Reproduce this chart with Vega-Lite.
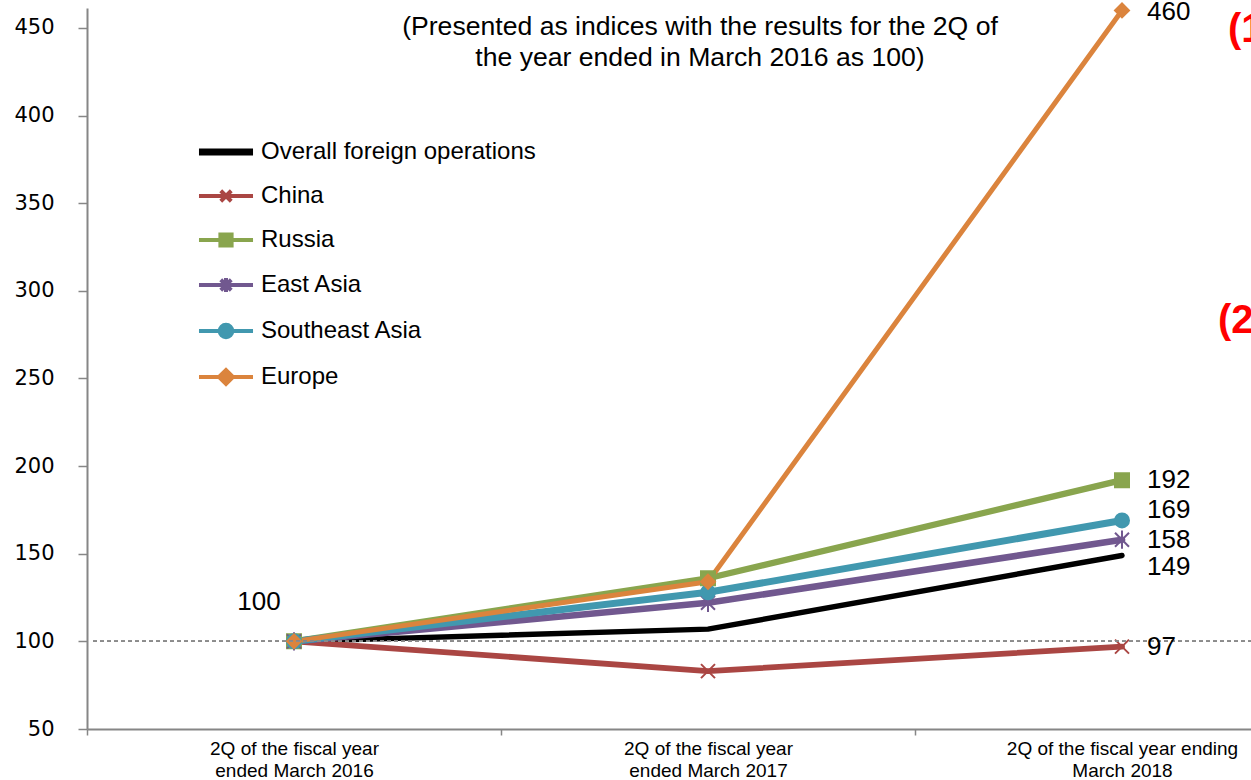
{
  "$schema": "https://vega.github.io/schema/vega-lite/v6.json",
  "width": 1164,
  "height": 721,
  "autosize": {"type": "none"},
  "padding": {"left": 87, "top": 8, "right": 0, "bottom": 51},
  "background": "white",
  "config": {"view": {"stroke": null}, "font": "Liberation Sans"},
  "title": {
    "text": ["(Presented as indices with the results for the 2Q of", "the year ended in March 2016 as 100)"],
    "font": "Liberation Sans",
    "fontSize": 26.6,
    "fontWeight": "normal",
    "color": "#000000",
    "lineHeight": 31,
    "anchor": "middle",
    "frame": "group",
    "baseline": "bottom",
    "dx": 31,
    "offset": -99
  },
  "data": {
    "values": [
      {"period": "2Q of the fiscal year ended March 2016", "region": "Overall foreign operations", "value": 100},
      {"period": "2Q of the fiscal year ended March 2017", "region": "Overall foreign operations", "value": 107},
      {"period": "2Q of the fiscal year ending March 2018", "region": "Overall foreign operations", "value": 149},
      {"period": "2Q of the fiscal year ended March 2016", "region": "China", "value": 100},
      {"period": "2Q of the fiscal year ended March 2017", "region": "China", "value": 83},
      {"period": "2Q of the fiscal year ending March 2018", "region": "China", "value": 97},
      {"period": "2Q of the fiscal year ended March 2016", "region": "Russia", "value": 100},
      {"period": "2Q of the fiscal year ended March 2017", "region": "Russia", "value": 136},
      {"period": "2Q of the fiscal year ending March 2018", "region": "Russia", "value": 192},
      {"period": "2Q of the fiscal year ended March 2016", "region": "East Asia", "value": 100},
      {"period": "2Q of the fiscal year ended March 2017", "region": "East Asia", "value": 122},
      {"period": "2Q of the fiscal year ending March 2018", "region": "East Asia", "value": 158},
      {"period": "2Q of the fiscal year ended March 2016", "region": "Southeast Asia", "value": 100},
      {"period": "2Q of the fiscal year ended March 2017", "region": "Southeast Asia", "value": 128},
      {"period": "2Q of the fiscal year ending March 2018", "region": "Southeast Asia", "value": 169},
      {"period": "2Q of the fiscal year ended March 2016", "region": "Europe", "value": 100},
      {"period": "2Q of the fiscal year ended March 2017", "region": "Europe", "value": 134},
      {"period": "2Q of the fiscal year ending March 2018", "region": "Europe", "value": 460}
    ]
  },
  "encoding": {
    "x": {
      "field": "period",
      "type": "nominal",
      "sort": null,
      "scale": {"type": "band", "paddingInner": 0, "paddingOuter": 0, "range": [0, 1242]},
      "axis": {
        "title": null,
        "labelAngle": 0,
        "tickBand": "extent",
        "domainColor": "#868686",
        "domainWidth": 2,
        "tickColor": "#868686",
        "tickWidth": 1.5,
        "tickSize": 6,
        "labelFont": "Liberation Sans",
        "labelFontSize": 19,
        "labelColor": "#000000",
        "labelLineHeight": 22,
        "labelPadding": 4,
        "labelLimit": 400,
        "labelBaseline": "top",
        "labelExpr": "indexof(datum.label, ' ended') > 0 ? [substring(datum.label, 0, indexof(datum.label, ' ended')), substring(datum.label, indexof(datum.label, ' ended') + 1)] : [substring(datum.label, 0, indexof(datum.label, ' March')), substring(datum.label, indexof(datum.label, ' March') + 1)]"
      }
    },
    "y": {
      "field": "value",
      "type": "quantitative",
      "scale": {"domain": [50, 461.4], "nice": false, "zero": false},
      "axis": {
        "title": null,
        "values": [50, 100, 150, 200, 250, 300, 350, 400, 450],
        "grid": false,
        "domainColor": "#868686",
        "domainWidth": 2,
        "tickColor": "#868686",
        "tickWidth": 1.5,
        "tickSize": 9,
        "labelFont": "DejaVu Sans",
        "labelFontSize": 21,
        "labelColor": "#000000",
        "labelPadding": 24
      }
    }
  },
  "layer": [
    {
      "mark": {"type": "line", "strokeJoin": "round", "strokeCap": "round"},
      "encoding": {
        "color": {
          "field": "region",
          "type": "nominal",
          "scale": {
            "domain": ["Overall foreign operations", "China", "Russia", "East Asia", "Southeast Asia", "Europe"],
            "range": ["#000000", "#AA4643", "#89A54E", "#71588F", "#4198AF", "#DB843D"]
          },
          "legend": {
            "title": null,
            "orient": "none",
            "legendX": 107,
            "legendY": 132,
            "padding": 0,
            "labelFont": "Liberation Sans",
            "labelFontSize": 24,
            "labelColor": "#000000",
            "labelLimit": 500,
            "symbolSize": 196,
            "symbolOffset": 20,
            "labelOffset": 23,
            "rowPadding": 16,
            "encode": {
              "symbols": {
                "update": {
                  "shape": {"signal": "datum.value === 'Overall foreign operations' ? 'M-3.86,0L3.86,0' : datum.value === 'China' ? 'M-3.86,0L3.86,0M-0.75,-0.75L0.75,0.75M-0.75,0.75L0.75,-0.75' : datum.value === 'Russia' ? 'M-3.86,0L3.86,0M-0.8,-0.8L0.8,-0.8L0.8,0.8L-0.8,0.8Z' : datum.value === 'East Asia' ? 'M-3.86,0L3.86,0M-0.75,-0.75L0.75,0.75M-0.75,0.75L0.75,-0.75M0,-1L0,1' : datum.value === 'Southeast Asia' ? 'M-3.86,0L3.86,0M-0.9,0A0.9,0.9,0,1,0,0.9,0A0.9,0.9,0,1,0,-0.9,0Z' : 'M-3.86,0L3.86,0M-1,0L0,-1L1,0L0,1Z'"},
                  "strokeWidth": {"signal": "datum.value === 'Overall foreign operations' ? 7 : 4"},
                  "fillOpacity": {"value": 1},
                  "strokeOpacity": {"value": 1},
                  "opacity": {"value": 1}
                }
              }
            }
          }
        },
        "strokeWidth": {
          "field": "region",
          "type": "nominal",
          "scale": {
            "domain": ["Europe", "Overall foreign operations", "China", "Russia", "East Asia", "Southeast Asia"],
            "range": [5, 7, 5, 5, 5, 5]
          },
          "legend": null
        }
      }
    },
    {
      "transform": [{"filter": "datum.region !== 'Overall foreign operations'"}],
      "mark": {"type": "point", "filled": true, "opacity": 1, "size": 196, "strokeWidth": 2},
      "encoding": {
        "color": {"field": "region", "type": "nominal"},
        "stroke": {
          "field": "region",
          "type": "nominal",
          "scale": {
            "domain": ["China", "Russia", "East Asia", "Southeast Asia", "Europe"],
            "range": ["#AA4643", "#89A54E", "#71588F", "#4198AF", "#DB843D"]
          },
          "legend": null
        },
        "shape": {
          "field": "region",
          "type": "nominal",
          "scale": {
            "domain": ["Europe", "China", "Russia", "East Asia", "Southeast Asia"],
            "range": ["diamond", "M-1,-1L1,1M-1,1L1,-1", "square", "M-1,-1L1,1M-1,1L1,-1M0,-1.3L0,1.3", "circle"]
          },
          "legend": null
        }
      }
    },
    {
      "mark": {"type": "rule", "color": "#8C8C8C", "strokeWidth": 1, "strokeDash": [4, 3]},
      "encoding": {
        "x": {"value": 6},
        "x2": {"value": 1164},
        "y": {"datum": 100}
      }
    },
    {
      "transform": [{"filter": "datum.period === '2Q of the fiscal year ending March 2018' && (datum.region === 'China' || datum.region === 'Russia' || datum.region === 'East Asia')"}],
      "mark": {"type": "text", "align": "left", "baseline": "middle", "dx": 25, "font": "Liberation Sans", "fontSize": 26, "color": "#000000"},
      "encoding": {"text": {"field": "value", "type": "quantitative"}}
    },
    {
      "transform": [{"filter": "datum.period === '2Q of the fiscal year ending March 2018' && datum.region === 'Europe'"}],
      "mark": {"type": "text", "align": "left", "baseline": "middle", "dx": 25, "dy": 2, "font": "Liberation Sans", "fontSize": 26, "color": "#000000"},
      "encoding": {"text": {"field": "value", "type": "quantitative"}}
    },
    {
      "transform": [{"filter": "datum.period === '2Q of the fiscal year ending March 2018' && datum.region === 'Southeast Asia'"}],
      "mark": {"type": "text", "align": "left", "baseline": "middle", "dx": 25, "dy": -10, "font": "Liberation Sans", "fontSize": 26, "color": "#000000"},
      "encoding": {"text": {"field": "value", "type": "quantitative"}}
    },
    {
      "transform": [{"filter": "datum.period === '2Q of the fiscal year ending March 2018' && datum.region === 'Overall foreign operations'"}],
      "mark": {"type": "text", "align": "left", "baseline": "middle", "dx": 25, "dy": 12, "font": "Liberation Sans", "fontSize": 26, "color": "#000000"},
      "encoding": {"text": {"field": "value", "type": "quantitative"}}
    },
    {
      "transform": [{"filter": "datum.period === '2Q of the fiscal year ended March 2016' && datum.region === 'Overall foreign operations'"}],
      "mark": {"type": "text", "align": "center", "baseline": "middle", "dx": -35, "dy": -39, "font": "Liberation Sans", "fontSize": 26, "color": "#000000"},
      "encoding": {"text": {"field": "value", "type": "quantitative"}}
    },
    {
      "data": {"values": [{"period": "2Q of the fiscal year ending March 2018", "value": 449, "note": "(1)"}]},
      "mark": {"type": "text", "align": "left", "baseline": "middle", "dx": 106, "font": "Liberation Sans", "fontSize": 40, "fontWeight": "bold", "color": "#FF0000"},
      "encoding": {"text": {"field": "note", "type": "nominal"}}
    },
    {
      "data": {"values": [{"period": "2Q of the fiscal year ending March 2018", "value": 283, "note": "(2)"}]},
      "mark": {"type": "text", "align": "left", "baseline": "middle", "dx": 96, "font": "Liberation Sans", "fontSize": 40, "fontWeight": "bold", "color": "#FF0000"},
      "encoding": {"text": {"field": "note", "type": "nominal"}}
    }
  ]
}
